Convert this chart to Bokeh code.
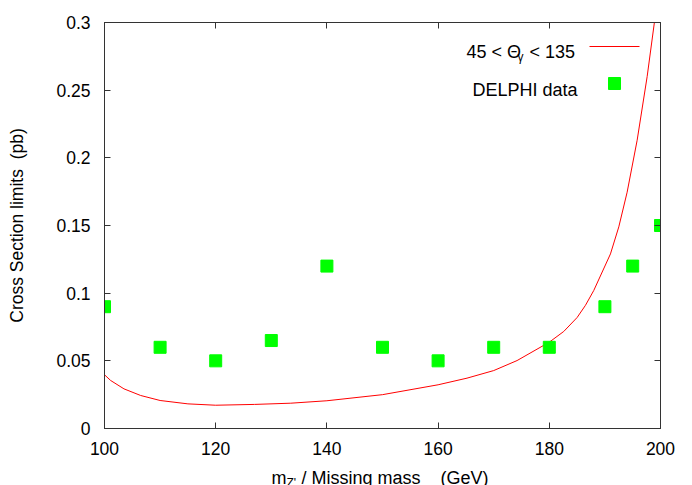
from bokeh.plotting import figure
from bokeh.models import LinearAxis, FixedTicker, Range1d
from bokeh.layouts import column
from bokeh.core.properties import value
from bokeh.embed import file_html
from bokeh.resources import INLINE

# ---- data ----
curve_x = [100, 101.1, 103.5, 106.5, 110, 115, 120, 127, 133.5, 140, 150, 160, 165.2,
           170, 174.2, 180, 182.6, 185, 186.5, 188, 191, 192.5, 194, 195.8, 197.6, 198.9, 199.4]
curve_y = [0.0397, 0.0355, 0.0293, 0.0244, 0.0207, 0.0182, 0.0172, 0.0178, 0.0187, 0.0205,
           0.025, 0.0323, 0.0372, 0.0428, 0.0502, 0.0638, 0.0717, 0.082, 0.091, 0.102, 0.129,
           0.149, 0.1746, 0.213, 0.260, 0.300, 0.33]
delphi_x = [100, 110, 120, 130, 140, 150, 160, 170, 180, 190, 195, 200]
delphi_y = [0.09, 0.06, 0.05, 0.065, 0.12, 0.06, 0.05, 0.06, 0.06, 0.09, 0.12, 0.15]
x_ticks = [100, 120, 140, 160, 180, 200]
y_ticks = [0, 0.05, 0.1, 0.15, 0.2, 0.25, 0.3]
y_tick_labels = ["0", "0.05", "0.1", "0.15", "0.2", "0.25", "0.3"]

FONT = "Liberation Sans"
FS = "17.5px"
FT_S = "18px"
SUB = "12px"
NB = "\u00a0"

# frame geometry (page px): left 104, right 660, top 22, bottom 428
FL, FR, FT, FB = 104, 660, 22, 428
W = 684
TOTAL_H = 485
MAIN_H = 462
STRIP_H = TOTAL_H - MAIN_H
X0, X1, Y0, Y1 = 100, 200, 0, 0.3

def dx(px):
    return X0 + (px - FL) * (X1 - X0) / (FR - FL)

def dy(py):
    return Y0 + (FB - py) * (Y1 - Y0) / (FB - FT)

p = figure(frame_width=FR - FL, frame_height=FB - FT,
           min_border_left=FL, min_border_right=W - FR,
           min_border_top=FT, min_border_bottom=MAIN_H - FB,
           x_range=Range1d(X0, X1), y_range=Range1d(Y0, Y1),
           output_backend="svg", toolbar_location=None,
           x_axis_location=None, y_axis_location=None)
p.background_fill_color = "white"
p.border_fill_color = "white"
p.outline_line_color = "#333333"
p.outline_line_width = 1
p.xgrid.visible = False
p.ygrid.visible = False

def make_axis(labels=True, yaxis=False):
    ax = LinearAxis()
    ax.ticker = FixedTicker(ticks=y_ticks if yaxis else x_ticks)
    ax.minor_tick_line_color = None
    ax.major_tick_in = 6
    ax.major_tick_out = 0
    ax.axis_line_color = "#333333"
    ax.major_tick_line_color = "#333333"
    ax.major_label_text_font = FONT
    ax.major_label_text_font_size = FS
    ax.major_label_text_color = "black"
    if not labels:
        ax.major_label_text_alpha = 0
        ax.major_label_standoff = 0
    elif yaxis:
        ax.major_label_overrides = {t: l for t, l in zip(y_ticks, y_tick_labels)}
        ax.major_label_standoff = 14
        ax.axis_label = "Cross Section limits" + NB + NB + "(pb)"
        ax.axis_label_text_font = FONT
        ax.axis_label_text_font_size = FS
        ax.axis_label_text_font_style = "normal"
        ax.axis_label_text_color = "black"
        ax.axis_label_standoff = 26
    else:
        ax.major_label_standoff = 13
    return ax

p.add_layout(make_axis(True, False), "below")
p.add_layout(make_axis(True, True), "left")
p.add_layout(make_axis(False, False), "above")
p.add_layout(make_axis(False, True), "right")

# curve and data
p.line(curve_x, curve_y, line_color="#ff0000", line_width=1)
p.scatter(delphi_x, delphi_y, marker="square", size=12,
          fill_color="#00ff00", line_color="#00ff00")

def txt(fig, text, x, y, size=FT_S, align="left"):
    fig.text(x=[x], y=[y], text=[text], text_font=value(FONT),
             text_font_size=size, text_align=align, text_baseline="alphabetic",
             text_color="black")

# legend (manual, label left of its sample)
txt(p, "45 < \u0398", dx(466), dy(51))
txt(p, "\u03b3", dx(517), dy(56), size=SUB)
txt(p, "< 135", dx(529), dy(51))
p.line([dx(589), dx(639)], [dy(46), dy(46)], line_color="#ff0000", line_width=1)
txt(p, "DELPHI data", dx(577), dy(89), align="right")
p.scatter([dx(614)], [dy(83)], marker="square", size=12,
          fill_color="#00ff00", line_color="#00ff00")

# x-axis title strip (holds the title with its subscript)
s = figure(frame_width=FR - FL, frame_height=STRIP_H,
           min_border_left=FL, min_border_right=W - FR,
           min_border_top=0, min_border_bottom=0,
           x_range=p.x_range, y_range=Range1d(0, STRIP_H),
           output_backend="svg", toolbar_location=None,
           x_axis_location=None, y_axis_location=None)
s.outline_line_color = None
s.xgrid.visible = False
s.ygrid.visible = False

def sy(py):
    return TOTAL_H - py

txt(s, "m", dx(271), sy(477))
txt(s, "Z'", dx(286), sy(482), size=SUB)
txt(s, "/ Missing mass" + NB * 4 + "(GeV)", dx(301), sy(477))

layout = column(p, s, spacing=0)
open("out.html", "w").write(file_html(layout, INLINE))
